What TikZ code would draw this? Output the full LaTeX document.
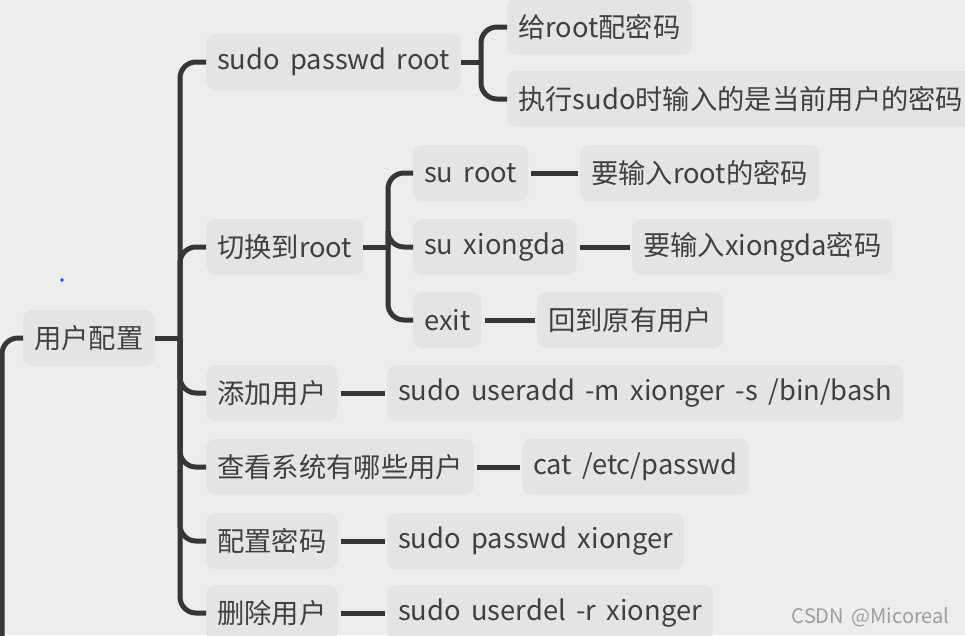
\documentclass[tikz,border=0pt]{standalone}
\usepackage{fontspec}
\setmainfont{Noto Sans CJK SC}[WordSpace=1.7]
\definecolor{bg}{HTML}{EDEDED}
\definecolor{boxfill}{HTML}{E4E4E4}
\definecolor{ink}{HTML}{404040}
\definecolor{wire}{HTML}{363636}
\tikzset{
  topic/.style={anchor=west, fill=boxfill, text=ink, rounded corners=9pt, inner xsep=11pt, minimum height=56pt, font=\fontsize{27.3}{32}\selectfont},
  branch/.style={draw=wire, line width=5pt, rounded corners=16pt},
  twig/.style={draw=wire, line width=5pt, shorten <=3pt, shorten >=2pt},
}
\begin{document}
\begin{tikzpicture}[x=1pt,y=-1pt]
  \fill[bg] (0,0) rectangle (965,635);
  \useasboundingbox (0,0) rectangle (965,635);
  \fill[blue!70!cyan] (62,280) circle (1.8);
  % root and first level
  \node[topic] (root) at (23,338) {用户配置};
  \node[topic] (pwroot) at (206,62) {sudo passwd root};
  \node[topic] (toroot) at (206,247) {切换到root};
  \node[topic] (adduser) at (206,393) {添加用户};
  \node[topic] (listuser) at (206,467) {查看系统有哪些用户};
  \node[topic] (setpw) at (206,541) {配置密码};
  \node[topic] (deluser) at (206,613) {删除用户};
  % second level
  \node[topic] (giveroot) at (507,27) {给root配密码};
  \node[topic] (sudonote) at (507,99) {执行sudo时输入的是当前用户的密码};
  \node[topic] (suroot) at (413,173) {su root};
  \node[topic] (suxd) at (413,247) {su xiongda};
  \node[topic] (exit) at (413,320) {exit};
  \node[topic] (rootpw) at (580,173) {要输入root的密码};
  \node[topic] (xdpw) at (632,247) {要输入xiongda密码};
  \node[topic] (back) at (537,320) {回到原有用户};
  \node[topic] (addcmd) at (387,393) {sudo useradd -m xionger -s /bin/bash};
  \node[topic] (catcmd) at (522,467) {cat /etc/passwd};
  \node[topic] (pwcmd) at (387,541) {sudo passwd xionger};
  \node[topic] (delcmd) at (387,613) {sudo userdel -r xionger};
  \node[anchor=east, text=black!38, font=\fontsize{20}{24}\selectfont] (mark) at (953,617) {CSDN @Micoreal};
  % brackets
  \coordinate (j0) at (180,338);
  \coordinate (j1) at (481,62);
  \coordinate (j2) at (388,247);
  \draw[branch] (2,640) |- (root.west);
  \draw[branch] (root.east) -- (j0);
  \foreach \kid in {pwroot,toroot,adduser,listuser,setpw,deluser}
    \draw[branch] (j0) |- (\kid.west);
  \draw[branch] (pwroot.east) -- (j1);
  \foreach \kid in {giveroot,sudonote}
    \draw[branch] (j1) |- (\kid.west);
  \draw[branch] (toroot.east) -- (j2);
  \foreach \kid in {suroot,suxd,exit}
    \draw[branch] (j2) |- (\kid.west);
  % plain links
  \draw[twig] (suroot) -- (rootpw);
  \draw[twig] (suxd) -- (xdpw);
  \draw[twig] (exit) -- (back);
  \draw[twig] (adduser) -- (addcmd);
  \draw[twig] (listuser) -- (catcmd);
  \draw[twig] (setpw) -- (pwcmd);
  \draw[twig] (deluser) -- (delcmd);
\end{tikzpicture}
\end{document}
